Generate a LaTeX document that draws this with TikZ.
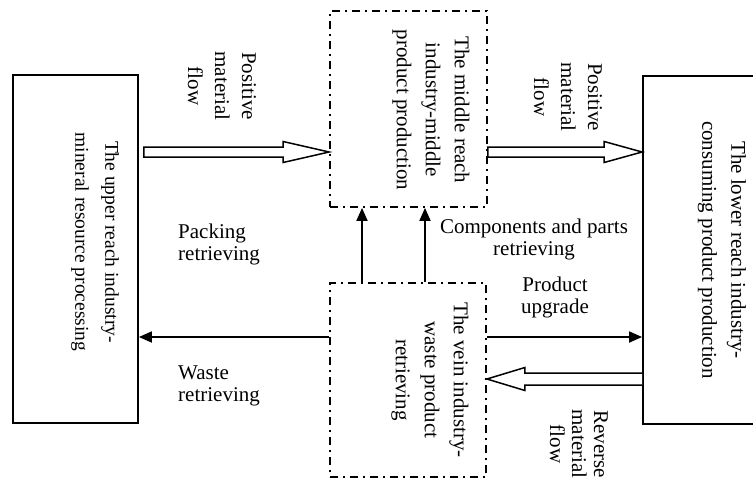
\documentclass[tikz,border=0pt]{standalone}
\usepackage{fontspec}
\setmainfont{Liberation Serif}
\usetikzlibrary{arrows.meta,calc}
\begin{document}
\begin{tikzpicture}[x=1pt,y=-1pt,
  solidbox/.style={draw, line width=1.8pt, inner sep=0pt},
  dashbox/.style={draw, line width=1.8pt, dash pattern=on 8pt off 5pt on 2pt off 5pt, inner sep=0pt},
  vtext/.style={rotate=-90, align=center, inner sep=0pt, font=\fontsize{21}{29}\selectfont},
  htext/.style={align=left, inner sep=0pt, font=\fontsize{21}{22}\selectfont},
  flowlbl/.style={rotate=-90, align=center, inner sep=0pt, font=\fontsize{21}{27}\selectfont},
  harrow/.style={draw, line width=1.5pt, fill=white, line join=miter},
  sarrow/.style={line width=1.8pt, -{Triangle[length=13pt,width=11pt]}},
]
\useasboundingbox (0,0) rectangle (753,480);
\clip (0,0) rectangle (753,480);

% boxes
\node[solidbox, minimum width=125pt, minimum height=348pt] (upper) at (75.5,249) {};
\node[solidbox, minimum width=140pt, minimum height=348pt] (lower) at (713,250) {};
\node[dashbox, minimum width=157pt, minimum height=196pt] (mid) at (408.5,109) {};
\node[dashbox, minimum width=156pt, minimum height=194pt] (vein) at (408,380) {};

% box texts
\node[vtext, font=\fontsize{19.5}{30}\selectfont] (uppert) at (95,242) {The upper reach industry-\\mineral resource processing};
\node[vtext] (lowert) at (722,250) {The lower reach industry-\\consuming product production};
\node[vtext] (midt) at (431,110) {The middle reach\\industry-middle\\product production};
\node[vtext] (veint) at (430,380) {The vein industry-\\waste product\\retrieving};

% hollow arrows
\coordinate (s1) at ($(upper.east |- 0,152)+(5,0)$);
\coordinate (e1) at (mid.west |- 0,152);
\draw[harrow] ($(s1)+(0,-5)$) -- ($(e1)+(-46,-5)$) -- ($(e1)+(-46,-10.5)$) -- (e1)
  -- ($(e1)+(-46,10.5)$) -- ($(e1)+(-46,5)$) -- ($(s1)+(0,5)$) -- cycle;

\coordinate (s2) at (mid.east |- 0,152);
\coordinate (e2) at (lower.west |- 0,152);
\draw[harrow] ($(s2)+(0,-5)$) -- ($(e2)+(-38,-5)$) -- ($(e2)+(-38,-10.5)$) -- (e2)
  -- ($(e2)+(-38,10.5)$) -- ($(e2)+(-38,5)$) -- ($(s2)+(0,5)$) -- cycle;

\coordinate (s3) at (lower.west |- 0,379);
\coordinate (e3) at (vein.east |- 0,379);
\draw[harrow] ($(s3)+(0,-6)$) -- ($(e3)+(38,-6)$) -- ($(e3)+(38,-11.5)$) -- (e3)
  -- ($(e3)+(38,11.5)$) -- ($(e3)+(38,6)$) -- ($(s3)+(0,6)$);

% single arrows
\draw[sarrow] (vein.west |- 0,337) -- (upper.east |- 0,337);
\draw[sarrow] (vein.east |- 0,337) -- (lower.west |- 0,337);
\draw[sarrow] (vein.north -| 362,0) -- (mid.south -| 362,0);
\draw[sarrow] (vein.north -| 425,0) -- (mid.south -| 425,0);

% labels
\node[flowlbl] (pmf1) at (222,86) {Positive\\material\\flow};
\node[flowlbl] (pmf2) at (568,97) {Positive\\material\\flow};
\node[flowlbl, font=\fontsize{21}{22}\selectfont] (rmf) at (579,444) {Reverse\\material\\flow};
\node[htext, anchor=west] (pack) at (178,244) {Packing\\retrieving};
\node[htext, anchor=west] (waste) at (178,386) {Waste\\retrieving};
\node[htext, align=center] (comp) at (534,239) {Components and parts\\retrieving};
\node[htext, align=center] (upg) at (555,297) {Product\\upgrade};
\end{tikzpicture}
\end{document}
